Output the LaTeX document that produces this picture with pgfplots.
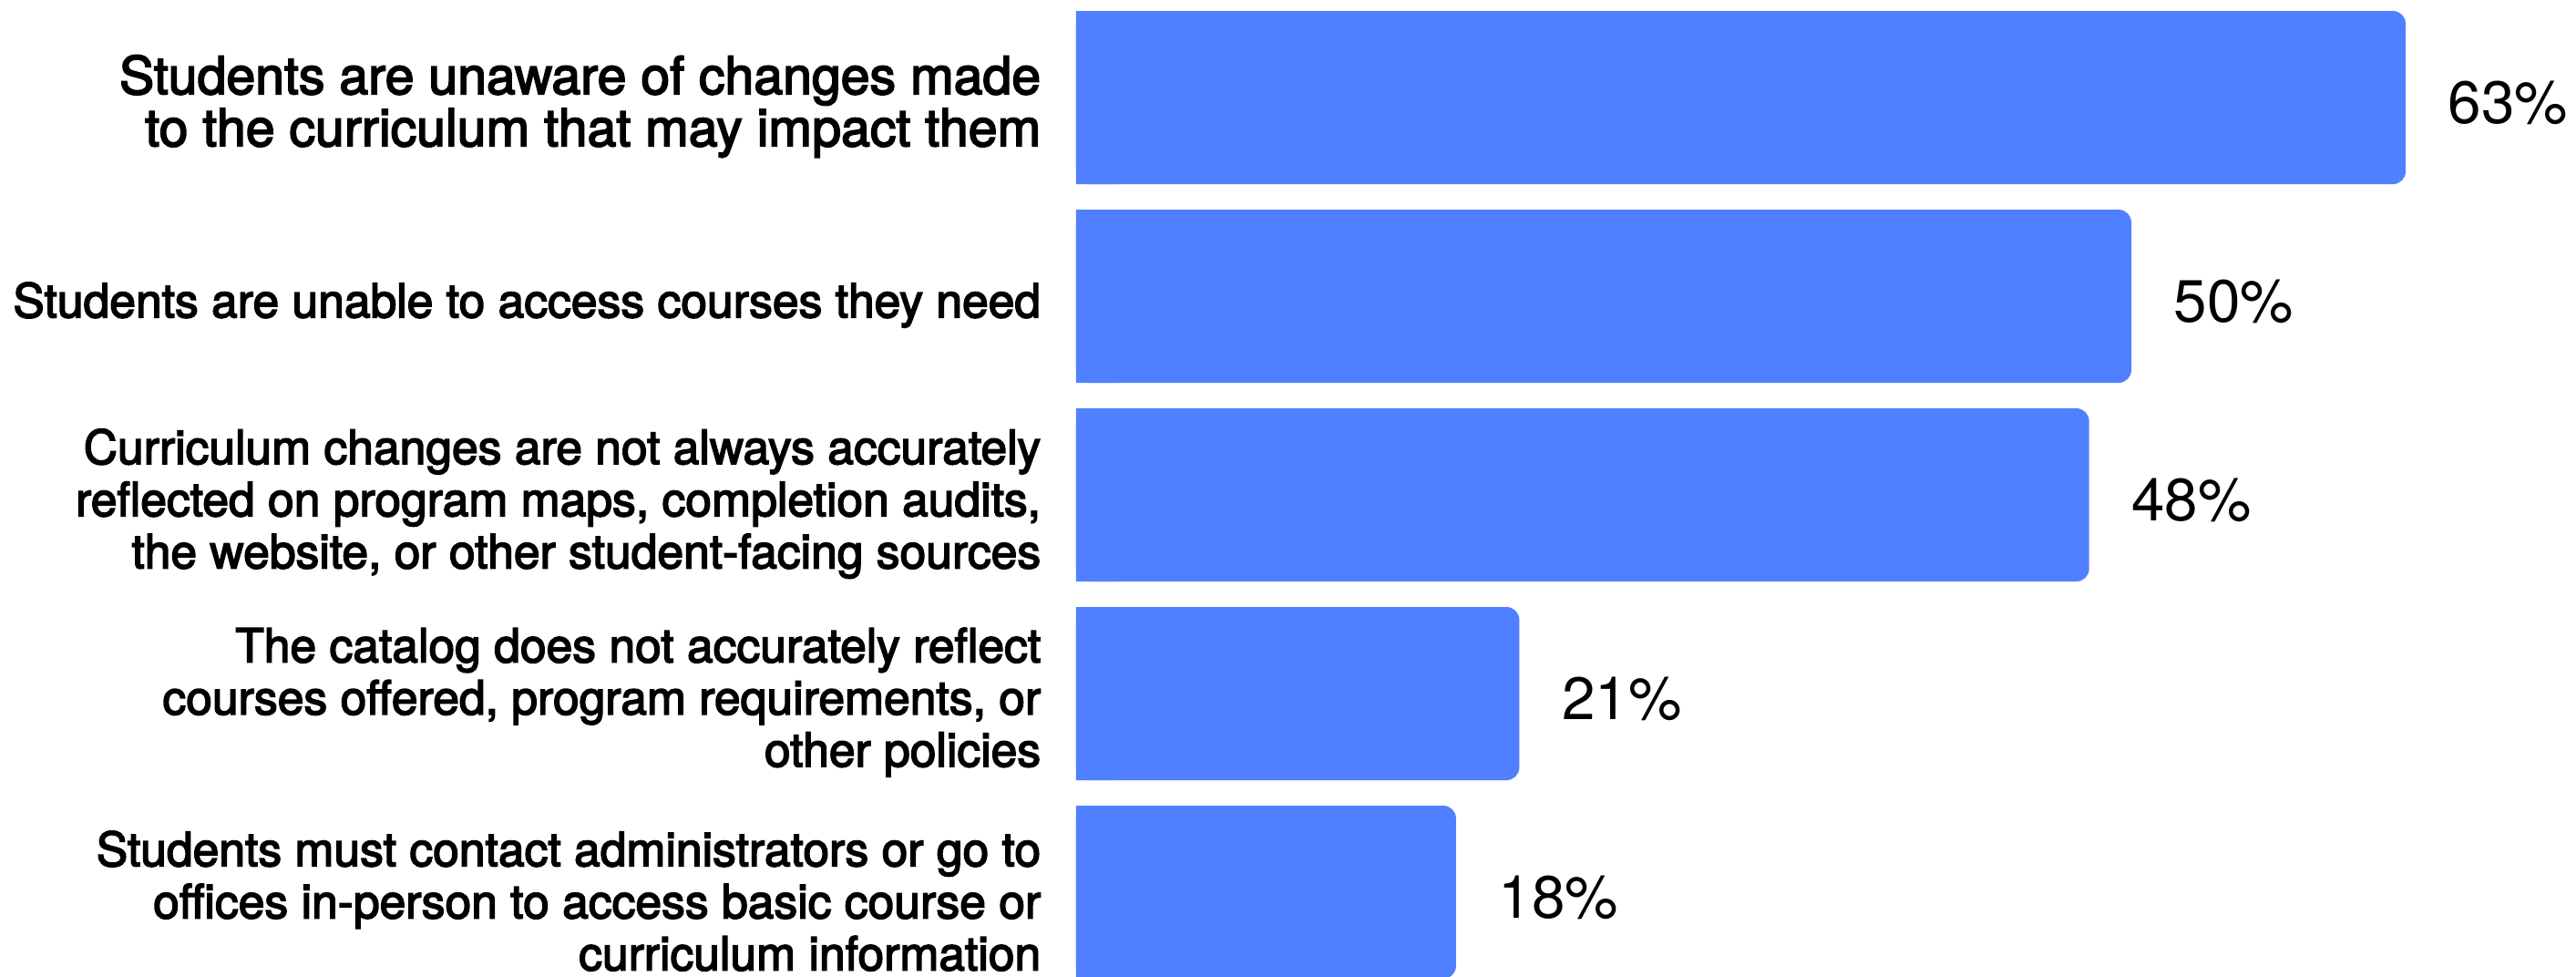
\documentclass[border=0pt]{standalone}
\usepackage{fontspec}
\setmainfont{TeX Gyre Heros}
\newfontfamily\labfont{TeX Gyre Heros}[FakeBold=3]
\usepackage{pgfplots}
\pgfplotsset{compat=1.18}

\definecolor{barblue}{RGB}{80,128,255}
\newcommand{\toplab}{\fontsize{14.3}{15.3}\selectfont}

\begin{document}
\begin{tikzpicture}
\begin{axis}[
  name=ax,
  scale only axis,
  width=411.5pt, height=267.75pt,
  xmin=0, xmax=71.07,
  ymin=-0.491, ymax=4.422,
  y dir=reverse,
  axis line style={draw=none},
  major tick length=0pt,
  xtick=\empty,
  ytick={0,1,2,3,4},
  yticklabels={
    {\toplab Students are unaware of changes made\\\toplab to the curriculum that may impact them},
    {\raisebox{2.4pt}{Students are unable to access courses they need}},
    {Curriculum changes are not always accurately\\reflected on program maps, completion audits,\\the website, or other student-facing sources},
    {The catalog does not accurately reflect\\courses offered, program requirements, or\\other policies},
    {Students must contact administrators or go to\\offices in-person to access basic course or\\curriculum information}
  },
  yticklabel style={align=right, anchor=east, inner sep=0pt, xshift=-9.5pt, yshift=-2.4pt,
    font=\labfont\fontsize{12.9}{14.3}\selectfont},
  clip=true,
]
% left-edge patches so only the right corners look rounded
\addplot[xbar, bar width=47.5pt, bar shift=0pt, fill=barblue, draw=none]
  coordinates {(2,0) (2,1) (2,2) (2,3) (2,4)};
\addplot[xbar, bar width=47.5pt, bar shift=0pt, fill=barblue, draw=none,
  rounded corners=3.5pt,
  nodes near coords={\pgfplotspointmeta\%},
  every node near coord/.append style={anchor=west, inner sep=0pt, xshift=11.5pt,
    yshift=-1.5pt, text=black, font=\fontsize{16.4}{19}\selectfont, rounded corners=0pt},
  point meta=explicit symbolic]
  coordinates {(63,0)[63] (50,1)[50] (48,2)[48] (21,3)[21] (18,4)[18]};
\end{axis}
\pgfresetboundingbox
\path[use as bounding box] ([xshift=-295.25pt]ax.south west) rectangle (ax.north east);
\end{tikzpicture}
\end{document}
